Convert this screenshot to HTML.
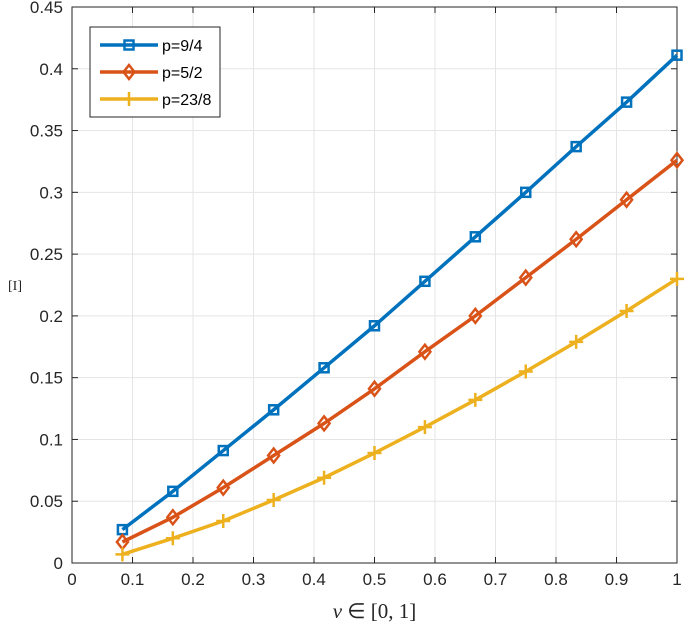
<!DOCTYPE html>
<html><head><meta charset="utf-8"><style>body{margin:0;background:#fff}svg{display:block;font-family:"Liberation Sans",sans-serif}</style></head>
<body>
<svg id="c" width="685" height="629"></svg>
<script>
const xs=[1,2,3,4,5,6,7,8,9,10,11,12].map(k=>k/12);
const blue=[0.027,0.058,0.091,0.124,0.158,0.192,0.228,0.264,0.300,0.337,0.373,0.411];
const red=[0.017,0.037,0.061,0.087,0.113,0.141,0.171,0.200,0.231,0.262,0.294,0.326];
const yellow=[0.007,0.020,0.034,0.051,0.069,0.089,0.110,0.132,0.155,0.179,0.204,0.230];
const xTicks=[0,0.1,0.2,0.3,0.4,0.5,0.6,0.7,0.8,0.9,1];
const yTicks=[0,0.05,0.1,0.15,0.2,0.25,0.3,0.35,0.4,0.45];
const L=72,R=677,T=7,B=563;
const X=v=>L+v*(R-L), Y=v=>B-v/0.45*(B-T);
const svg=document.getElementById('c');const NS='http://www.w3.org/2000/svg';
function el(t,a,p){const e=document.createElementNS(NS,t);for(const k in a)e.setAttribute(k,a[k]);(p||svg).appendChild(e);return e;}
xTicks.forEach(t=>{const g=el('line',{x1:X(t),x2:X(t),y1:T,y2:B,stroke:'#e5e5e5'});

const tk=el('line',{x1:X(t),x2:X(t),y1:B,y2:B-6,stroke:'#262626'});
const tk2=el('line',{x1:X(t),x2:X(t),y1:T,y2:T+6,stroke:'#262626'});
const tx=el('text',{x:X(t),y:B+22,'text-anchor':'middle','font-size':17,fill:'#262626'});tx.textContent=String(t);
});
yTicks.forEach(t=>{const g=el('line',{x1:L,x2:R,y1:Y(t),y2:Y(t),stroke:'#e5e5e5'});

const tk=el('line',{x1:L,x2:L+6,y1:Y(t),y2:Y(t),stroke:'#262626'});
const tk2=el('line',{x1:R,x2:R-6,y1:Y(t),y2:Y(t),stroke:'#262626'});
const tx=el('text',{x:L-9,y:Y(t)+6,'text-anchor':'end','font-size':17,fill:'#262626'});tx.textContent=String(t);
});
const fr=el('rect',{x:L,y:T,width:R-L,height:B-T,fill:'none',stroke:'#262626'});

function marker(type,x,y,c,p){
 if(type==='sq')return el('rect',{x:x-4.5,y:y-4.5,width:9,height:9,fill:'none',stroke:c,'stroke-width':2.5},p);
 if(type==='di')return el('path',{d:`M${x} ${y-7}L${x+5.5} ${y}L${x} ${y+7}L${x-5.5} ${y}Z`,fill:'none',stroke:c,'stroke-width':2.5},p);
 return el('path',{d:`M${x-7} ${y}H${x+7}M${x} ${y-7}V${y+7}`,stroke:c,'stroke-width':2.5},p);}
const series=[[blue,'#0072bd','sq','series-p-9-4'],[red,'#d95319','di','series-p-5-2'],[yellow,'#edb120','pl','series-p-23-8']];
series.forEach(([d,c,m,n])=>{const g=el('g',{});
 const pl=el('polyline',{points:d.map((v,i)=>X(xs[i])+','+Y(v)).join(' '),fill:'none',stroke:c,'stroke-width':3.5},g);
 
 d.forEach((v,i)=>{const mk=marker(m,X(xs[i]),Y(v),c,g);});});
const lg=el('g',{});
el('rect',{x:90,y:27,width:130,height:90,fill:'#fff',stroke:'#262626'},lg);
const labs=['p=9/4','p=5/2','p=23/8'];
series.forEach(([d,c,m],i)=>{const y=45+i*27;const e=el('g',{},lg);
 el('line',{x1:100,x2:158,y1:y,y2:y,stroke:c,'stroke-width':3.5},e);marker(m,129,y,c,e);
 const t=el('text',{x:162,y:y+6,'font-size':16,fill:'#000'},e);t.textContent=labs[i];});
const xl=el('text',{x:(L+R)/2,y:618,'text-anchor':'middle','font-size':21,'font-family':'Liberation Serif,serif',fill:'#262626'});
xl.innerHTML='<tspan font-style="italic">v</tspan> ∈ [0, 1]';
const yl=el('text',{x:15,y:290,'text-anchor':'middle','font-size':14,'font-family':'Liberation Serif,serif',fill:'#262626'});
yl.textContent='[I]';
</script>
</body></html>
